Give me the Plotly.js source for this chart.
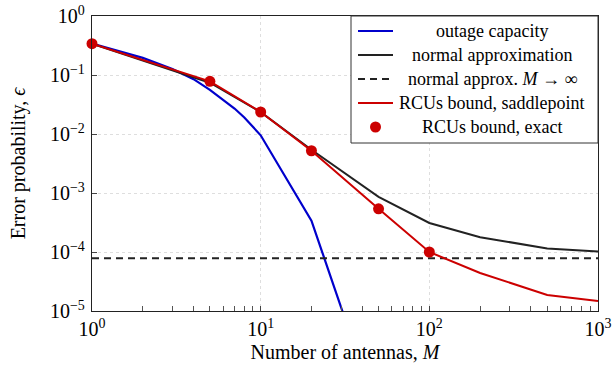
<!DOCTYPE html>
<html>
<head>
<meta charset="utf-8">
<script src="https://cdn.plot.ly/plotly-3.0.1.min.js"></script>
<style>
  html, body { margin: 0; padding: 0; background: #fff; }
  #chart { width: 613px; height: 366px; }
</style>
</head>
<body>
<div id="chart"></div>
<script>
// Number of antennas M for each curve
const antennas = [1, 2, 5, 10, 20, 50, 100, 200, 500, 1000];
const antennasOutage = [1, 2, 3, 4, 5, 6, 7, 8, 9, 10, 20, 50];
const antennasExact = [1, 5, 10, 20, 50, 100];
const antennasLimit = [1, 1000];

// Error probability values
const outageCapacity = [0.34, 0.195, 0.126, 0.085, 0.056, 0.038, 0.027, 0.019, 0.013, 0.0095, 3.4e-4, 1.6e-7];
const normalApprox = [0.34, 0.178, 0.074, 0.0235, 0.0054, 8.6e-4, 3.1e-4, 1.78e-4, 1.15e-4, 1.02e-4];
const normalApproxLimit = [7.8e-5, 7.8e-5];
const rcusSaddlepoint = [0.34, 0.18, 0.078, 0.0236, 0.0052, 5.4e-4, 1.0e-4, 4.4e-5, 1.87e-5, 1.48e-5];
const rcusExact = [0.34, 0.078, 0.0236, 0.0052, 5.4e-4, 1.0e-4];

// Axis ticks
const xTickVals = [1, 10, 100, 1000];
const xTickText = ['10<sup>0</sup>', '10<sup>1</sup>', '10<sup>2</sup>', '10<sup>3</sup>'];
const yTickVals = [1e-5, 1e-4, 1e-3, 1e-2, 1e-1, 1];
const yTickText = ['10<sup>−5</sup>', '10<sup>−4</sup>', '10<sup>−3</sup>', '10<sup>−2</sup>', '10<sup>−1</sup>', '10<sup>0</sup>'];
const xMinorVals = [2,3,4,5,6,7,8,9,20,30,40,50,60,70,80,90,200,300,400,500,600,700,800,900];

const legendLabels = ['outage capacity', 'normal approximation', 'normal approx. <i>M</i> → ∞',
                      'RCUs bound, saddlepoint', 'RCUs bound, exact'];

const BLUE = '#0000cc', BLACK = '#222222', RED = '#cc0000';
const FONT = 'Liberation Serif';

const traces = [
  { x: antennasOutage, y: outageCapacity, mode: 'lines', line: { color: BLUE, width: 2.2 } },
  { x: antennas, y: normalApprox, mode: 'lines', line: { color: BLACK, width: 2 } },
  { x: antennasLimit, y: normalApproxLimit, mode: 'lines', line: { color: BLACK, width: 2, dash: '7px,5px' } },
  { x: antennas, y: rcusSaddlepoint, mode: 'lines', line: { color: RED, width: 2 } },
  { x: antennasExact, y: rcusExact, mode: 'markers', marker: { color: RED, size: 11 }, cliponaxis: false }
];

// Plot area in pixels
const W = 613, H = 366;
const margin = { l: 92, r: 15, t: 16, b: 55 };
const plotW = W - margin.l - margin.r, plotH = H - margin.t - margin.b;
const px = x => (x - margin.l) / plotW;
const py = y => (H - margin.b - y) / plotH;

// Legend box drawn with shapes and centred text
const legendBox = { x0: 351, x1: 598, y0: 16, y1: 143 };
const rowY = [31, 55, 79, 103, 127];
const sampleX0 = 358, sampleX1 = 393, textX = 492;
const sampleStyles = [
  { color: BLUE, width: 2.2, dash: 'solid' },
  { color: BLACK, width: 2, dash: 'solid' },
  { color: BLACK, width: 2, dash: '7px,5px' },
  { color: RED, width: 2, dash: 'solid' }
];

const shapes = [{
  type: 'rect', xref: 'paper', yref: 'paper',
  x0: px(legendBox.x0), x1: px(legendBox.x1), y0: py(legendBox.y1), y1: py(legendBox.y0),
  line: { color: '#333', width: 1 }, fillcolor: '#fff', layer: 'above'
}];
sampleStyles.forEach((s, i) => {
  shapes.push({
    type: 'line', xref: 'paper', yref: 'paper',
    x0: px(sampleX0), x1: px(sampleX1), y0: py(rowY[i]), y1: py(rowY[i]),
    line: s, layer: 'above'
  });
});
const markerR = 5.5, markerCx = (sampleX0 + sampleX1) / 2;
shapes.push({
  type: 'circle', xref: 'paper', yref: 'paper',
  x0: px(markerCx - markerR), x1: px(markerCx + markerR),
  y0: py(rowY[4] + markerR), y1: py(rowY[4] - markerR),
  fillcolor: RED, line: { color: RED, width: 0 }, layer: 'above'
});

const annotations = legendLabels.map((t, i) => ({
  text: t, xref: 'paper', yref: 'paper', x: px(textX), y: py(rowY[i]),
  xanchor: 'center', yanchor: 'middle', showarrow: false,
  font: { family: FONT, size: 18, color: '#000' }
}));

const axisCommon = {
  type: 'log',
  showline: true, linecolor: '#222', linewidth: 1.2, mirror: true,
  ticks: 'inside', ticklen: 5, tickcolor: '#444',
  showgrid: true, gridcolor: '#dedede', griddash: 'dot', gridwidth: 1,
  zeroline: false, tickmode: 'array',
  tickfont: { family: FONT, size: 20, color: '#000' }
};

const layout = {
  width: W, height: H, margin: margin,
  paper_bgcolor: '#fff', plot_bgcolor: '#fff',
  showlegend: false,
  font: { family: FONT },
  xaxis: Object.assign({}, axisCommon, {
    range: [0, 3], tickvals: xTickVals, ticktext: xTickText,
    minor: { tickmode: 'array', tickvals: xMinorVals, ticks: 'inside', ticklen: 5, tickcolor: '#555', showgrid: false },
    title: { text: 'Number of antennas, <i>M</i>', font: { family: FONT, size: 20, color: '#000' }, standoff: 5 }
  }),
  yaxis: Object.assign({}, axisCommon, {
    range: [-5, 0], tickvals: yTickVals, ticktext: yTickText, ticklabelstandoff: 2,
    title: { text: 'Error probability, <i>ϵ</i>', font: { family: FONT, size: 20, color: '#000' }, standoff: 18 }
  }),
  shapes: shapes,
  annotations: annotations
};

Plotly.newPlot('chart', traces, layout, { staticPlot: true, displayModeBar: false });
</script>
</body>
</html>
